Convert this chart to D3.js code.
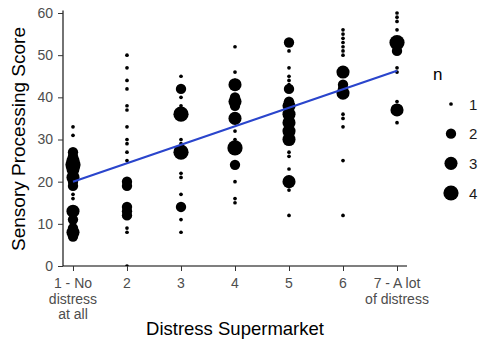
<!DOCTYPE html>
<html>
<head>
<meta charset="utf-8">
<script src="https://cdn.jsdelivr.net/npm/d3@7"></script>
<style>
  html, body { margin: 0; padding: 0; background: #fff; }
  svg { display: block; font-family: "Liberation Sans", Arial, sans-serif; }
</style>
</head>
<body>
<svg id="chart" width="479" height="342"></svg>
<script>
// ---- data ----
const xCats = [1, 2, 3, 4, 5, 6, 7];
const xTickLabels = [["1 - No", "distress", "at all"], ["2"], ["3"], ["4"], ["5"], ["6"], ["7 - A lot", "of distress"]];
const yTicks = [0, 10, 20, 30, 40, 50, 60];

const scores1 = [33, 31, 27, 26, 25, 24, 23, 22, 21, 20, 19, 17, 16, 13, 11, 10, 9, 8, 7];
const counts1 = [1, 1, 2, 2, 3, 4, 3, 2, 3, 2, 2, 1, 1, 3, 2, 1, 2, 3, 2];
const scores2 = [50, 47, 44, 42, 38, 37, 33, 30, 29, 27, 25, 20, 19, 14, 13, 12, 9, 8, 0];
const counts2 = [1, 1, 1, 1, 1, 1, 1, 1, 1, 1, 1, 2, 2, 2, 2, 2, 1, 1, 1];
const scores3 = [45, 42, 40, 38, 36, 30, 29, 27, 22, 21, 17, 14, 11, 8];
const counts3 = [1, 2, 1, 1, 4, 1, 1, 4, 1, 1, 1, 2, 1, 1];
const scores4 = [52, 46, 44, 43, 40, 39, 38, 35, 32, 30, 28, 24, 20, 16, 15];
const counts4 = [1, 1, 1, 3, 2, 3, 2, 3, 1, 1, 4, 2, 1, 1, 1];
const scores5 = [53, 51, 47, 45, 44, 43, 42, 39, 38, 37, 36, 35, 34, 33, 32, 31, 30, 27, 26, 23, 21, 20, 18, 12];
const counts5 = [2, 1, 1, 1, 1, 1, 2, 2, 3, 2, 3, 2, 3, 2, 3, 2, 3, 1, 1, 1, 1, 3, 1, 1];
const scores6 = [56, 55, 54, 53, 52, 51, 50, 46, 43, 42, 41, 36, 35, 33, 25, 12];
const counts6 = [1, 1, 1, 1, 1, 1, 1, 3, 2, 2, 3, 1, 1, 1, 1, 1];
const scores7 = [60, 59, 58, 56, 54, 53, 51, 47, 46, 39, 37, 34];
const counts7 = [1, 1, 1, 1, 1, 4, 2, 1, 1, 1, 3, 1];

const allScores = [scores1, scores2, scores3, scores4, scores5, scores6, scores7];
const allCounts = [counts1, counts2, counts3, counts4, counts5, counts6, counts7];

const sizeLevels = [1, 2, 3, 4];
const fitX = [1, 7];
const fitY = [20.0, 46.3];

// ---- build rows ----
const points = [];
xCats.forEach((c, i) => {
  allScores[i].forEach((s, j) => points.push({ x: c, y: s, n: allCounts[i][j] }));
});

// ---- scales ----
const svg = d3.select("#chart");
const x = d3.scaleLinear().domain([0.815, 7.185]).range([63, 407]);
const y = d3.scaleLinear().domain([0, 60]).range([266, 13]);
const sizeLin = d3.scaleLinear().domain([0, 1]).range([1, 6]);
const r = n => sizeLin(Math.sqrt((n - 1) / 3)) * 1.15 + 0.7;

svg.append("defs").append("clipPath").attr("id", "panel")
  .append("rect").attr("x", 63).attr("y", 10.5).attr("width", 344).attr("height", 255.5);

// ---- points ----
svg.append("g").attr("clip-path", "url(#panel)")
  .selectAll("circle").data(points).join("circle")
  .attr("cx", d => x(d.x)).attr("cy", d => y(d.y)).attr("r", d => r(d.n))
  .attr("fill", "#000");

// ---- fit line ----
const fitData = fitX.map((v, i) => ({ x: v, y: fitY[i] }));
svg.append("path").datum(fitData)
  .attr("d", d3.line().x(d => x(d.x)).y(d => y(d.y)))
  .attr("fill", "none").attr("stroke", "#2a45cc").attr("stroke-width", 2.2);

// ---- axes ----
const yAxis = d3.axisLeft(y).tickValues(yTicks).tickSize(5).tickPadding(5);
const gy = svg.append("g").attr("transform", "translate(63,0)").call(yAxis);
gy.select(".domain").attr("stroke", "#000").attr("stroke-width", 1.1)
  .attr("d", "M0,10.5V266");
gy.selectAll(".tick line").attr("stroke", "#333");
gy.selectAll(".tick text").attr("fill", "#4d4d4d").style("font-size", "14px")
  .style("font-family", "Liberation Sans, Arial, sans-serif");

const xAxis = d3.axisBottom(x).tickValues(xCats).tickSize(5).tickFormat("");
const gx = svg.append("g").attr("transform", "translate(0,266)").call(xAxis);
gx.select(".domain").attr("stroke", "#000").attr("stroke-width", 1.1).attr("d", "M63,0H407");
gx.selectAll(".tick line").attr("stroke", "#333");

const xl = svg.append("g");
xCats.forEach((c, i) => {
  const t = xl.append("text").attr("x", x(c)).attr("y", 288)
    .attr("text-anchor", "middle").attr("fill", "#4d4d4d").style("font-size", "14px");
  xTickLabels[i].forEach((line, k) => {
    t.append("tspan").attr("x", x(c)).attr("y", 288 + k * 15.5).text(line);
  });
});

// ---- axis titles ----
svg.append("text").attr("x", 235).attr("y", 335).attr("text-anchor", "middle")
  .style("font-size", "18.5px").attr("fill", "#000").text("Distress Supermarket");
svg.append("text").attr("transform", "translate(25,139) rotate(-90)").attr("text-anchor", "middle")
  .style("font-size", "19px").attr("fill", "#000").text("Sensory Processing Score");

// ---- legend ----
const lg = svg.append("g");
lg.append("text").attr("x", 433).attr("y", 80).style("font-size", "17px").attr("fill", "#000").text("n");
const ly = d3.scalePoint().domain(sizeLevels).range([104, 193]);
sizeLevels.forEach(n => {
  lg.append("circle").attr("cx", 451).attr("cy", ly(n)).attr("r", r(n)).attr("fill", "#000");
  lg.append("text").attr("x", 469).attr("y", ly(n) + 5.5).style("font-size", "15px").attr("fill", "#1a1a1a").text(n);
});
</script>
</body>
</html>
